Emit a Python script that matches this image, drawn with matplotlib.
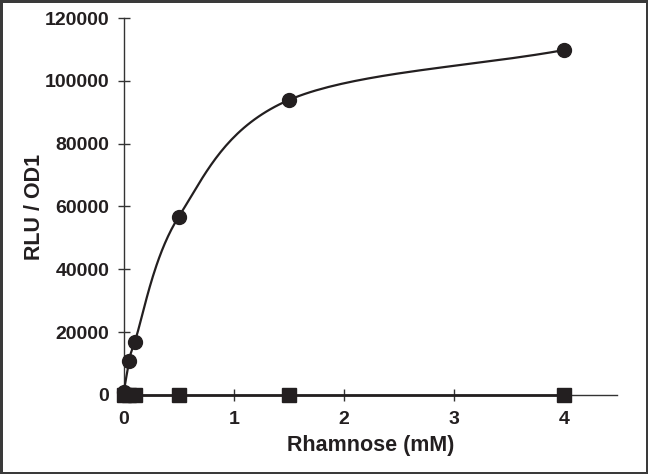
import numpy as np
import matplotlib.pyplot as plt

plt.rcParams['font.family'] = ['Liberation Sans', 'DejaVu Sans']

# Rhamnose concentration (mM)
rham = [0, 0.05, 0.1, 0.5, 1.5, 4]
# RLU / OD1 for induced strain (circles) and control (squares)
rlu_induced = [1000, 10800, 17000, 56800, 93900, 109800]
rlu_control = [0, 0, 0, 0, 0, 0]

x_ticks = [0, 1, 2, 3, 4]
y_ticks = [0, 20000, 40000, 60000, 80000, 100000, 120000]

ink = '#231f20'


def smooth(xs, ys, n=40):
    # catmull-rom like the excel "smoothed line"
    xs = np.asarray(xs, float)
    ys = np.asarray(ys, float)
    px = np.concatenate([[2 * xs[0] - xs[1]], xs, [2 * xs[-1] - xs[-2]]])
    py = np.concatenate([[2 * ys[0] - ys[1]], ys, [2 * ys[-1] - ys[-2]]])
    ox, oy = [], []
    t = np.linspace(0, 1, n)
    for i in range(1, len(px) - 2):
        for p, out in ((px, ox), (py, oy)):
            p0, p1, p2, p3 = p[i - 1], p[i], p[i + 1], p[i + 2]
            c1 = p1 + (p2 - p0) / 6
            c2 = p2 - (p3 - p1) / 6
            out.extend((1 - t) ** 3 * p1 + 3 * (1 - t) ** 2 * t * c1
                       + 3 * (1 - t) * t ** 2 * c2 + t ** 3 * p2)
    return np.array(ox), np.array(oy)


fig = plt.figure(figsize=(6.48, 4.74), dpi=100, linewidth=2.5, edgecolor='#3a3a3a')
ax = fig.add_axes([0.191, 0.1667, 0.761, 0.7953])

sx, sy = smooth(rham, rlu_induced)
ax.plot(sx, sy, color=ink, lw=1.6, zorder=3, clip_on=False)
ax.plot(rham, rlu_induced, 'o', color=ink, ms=10, zorder=4, clip_on=False)
ax.plot(rham, rlu_control, '-s', color=ink, lw=2, ms=10, zorder=4, clip_on=False)

ax.set_xlim(0, 4.48)
ax.set_ylim(0, 120000)
ax.set_xticks(x_ticks)
ax.set_yticks(y_ticks)
for s in ['top', 'right']:
    ax.spines[s].set_visible(False)
for s in ['left', 'bottom']:
    ax.spines[s].set_color('#333333')
    ax.spines[s].set_linewidth(1)
ax.tick_params(direction='inout', length=9, width=1, color='#333333',
               labelsize=14, labelcolor=ink)
ax.tick_params(axis='x', pad=7)
ax.tick_params(axis='y', pad=6)
for lab in ax.get_xticklabels() + ax.get_yticklabels():
    lab.set_fontweight('bold')

ax.set_xlabel('Rhamnose (mM)', fontsize=15.5, fontweight='bold', color=ink, labelpad=5)
ax.set_ylabel('RLU / OD1', fontsize=15.5, fontweight='bold', color=ink, labelpad=0)

fig.savefig('out.png', dpi=100)
